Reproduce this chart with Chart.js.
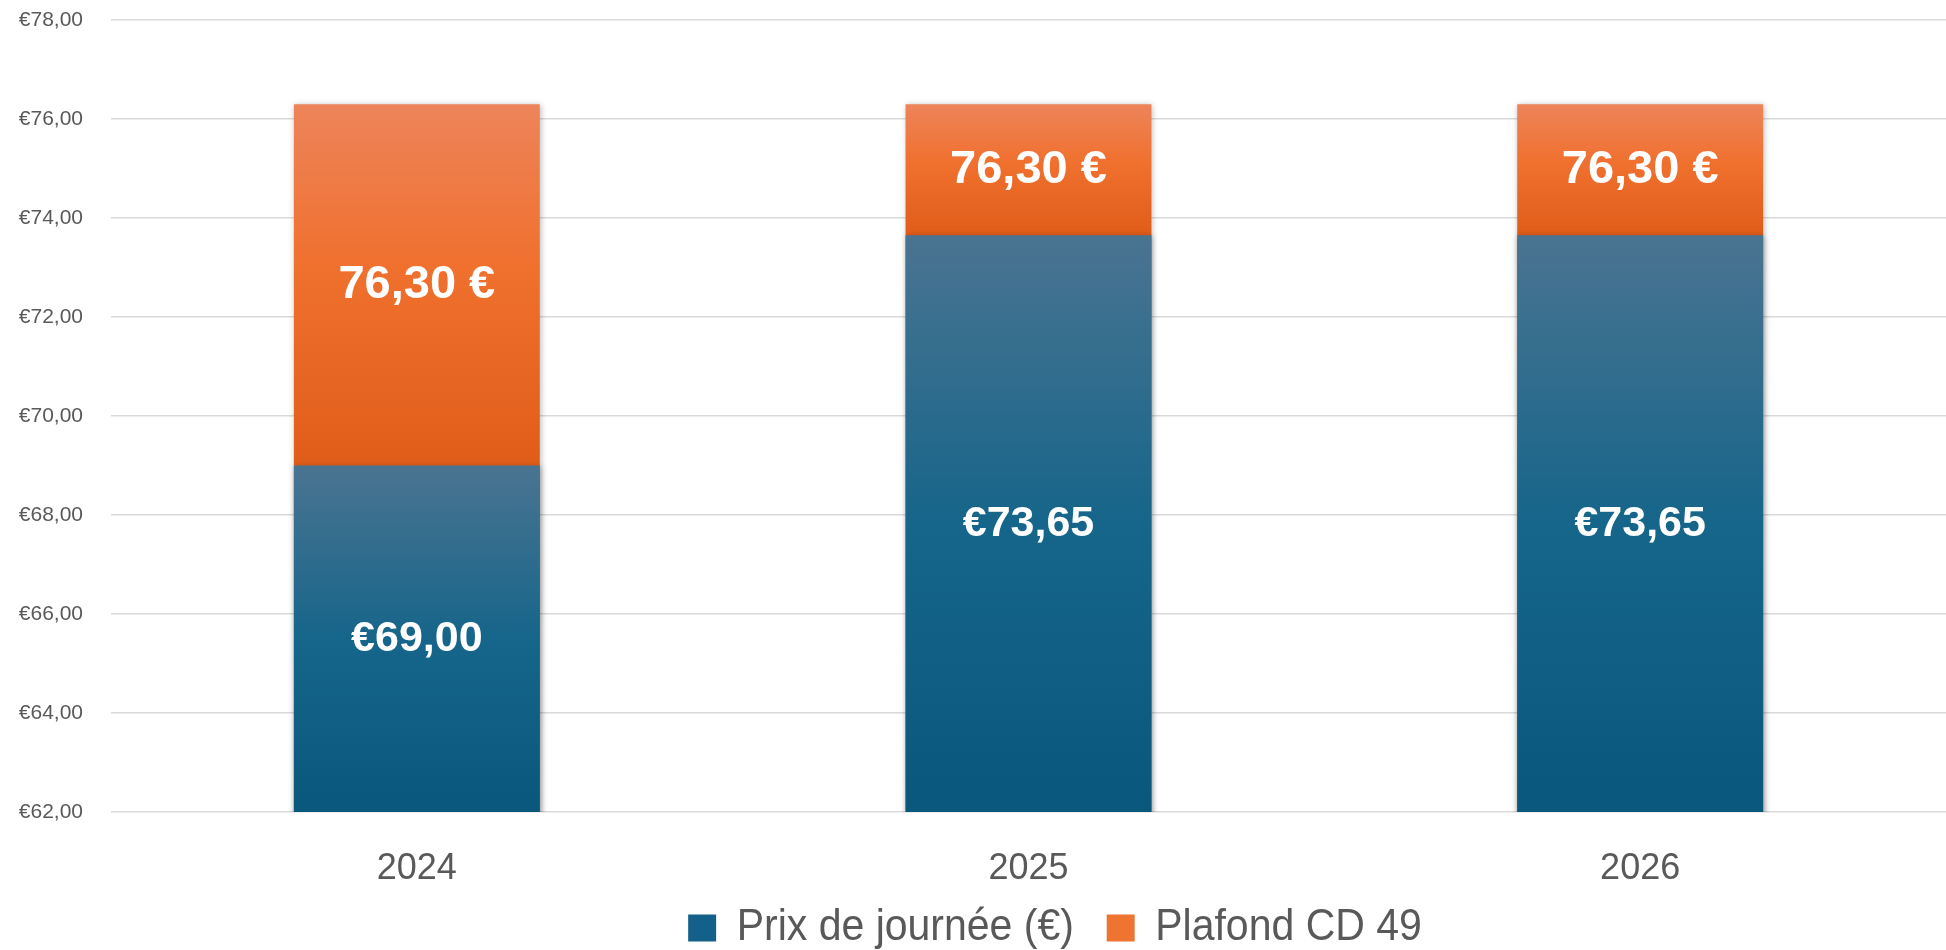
<!DOCTYPE html>
<html>
<head>
<meta charset="utf-8">
<script src="https://cdn.jsdelivr.net/npm/chart.js@4.4.1/dist/chart.umd.min.js"></script>
<style>
  html, body { margin: 0; padding: 0; background: #fff; }
  #wrap { width: 1946px; height: 950px; }
</style>
</head>
<body>
<div id="wrap"><canvas id="chart"></canvas></div>
<script>
// data
const annees = ['2024', '2025', '2026'];
const prixJournee = [69.00, 73.65, 73.65];
const plafondCD49 = [76.30, 76.30, 76.30];
const yMin = 62, yMax = 78, yStep = 2;

const fmtPrix = v => '€' + v.toFixed(2).replace('.', ',');
const fmtPlafond = v => v.toFixed(2).replace('.', ',') + ' €';

const SANS = '"Liberation Sans", Arial, sans-serif';

// vertical gradient between two values on the y scale
function barGradient(ctx, stops, topVal, bottomVal) {
  const chart = ctx.chart;
  if (!chart.chartArea || ctx.dataIndex === undefined) return stops[1][1];
  const y = chart.scales.y;
  const g = chart.ctx.createLinearGradient(0, y.getPixelForValue(topVal), 0, y.getPixelForValue(bottomVal));
  stops.forEach(s => g.addColorStop(s[0], s[1]));
  return g;
}

const blueStops = [[0, '#4a7491'], [0.5, '#16658a'], [1, '#0a577c']];
const orangeStops = [[0, '#ed845a'], [0.45, '#f0702e'], [1, '#e05d19']];

const barDeco = {
  id: 'barDeco',
  beforeLayout(chart) {
    // legend: keep its box short, draw it slightly stretched and shifted like the reference
    const lg = chart.legend;
    if (!lg || lg._patched) return;
    lg._patched = true;
    const origFit = lg.fit;
    lg.fit = function () {
      origFit.apply(this, arguments);
      this.height = 60;
    };
    const origDraw = lg.draw;
    lg.draw = function () {
      const ctx = this.ctx;
      const lab = this.options.labels;
      const cx = (this.left + this.right) / 2;
      const cy = this.top + lab.padding + Math.max(lab.font.size, lab.boxHeight) / 2;
      const bottom = this.bottom;
      this.bottom = bottom + 200; // the legend clips to its own box
      ctx.save();
      ctx.translate(cx + 82, 928);
      ctx.scale(1.025, 1.1);
      ctx.translate(-cx, -cy);
      origDraw.apply(this, arguments);
      ctx.restore();
      this.bottom = bottom;
    };
  },
  beforeDatasetsDraw(chart) {
    const ctx = chart.ctx;
    ctx.save();
    ctx.shadowColor = 'rgba(0,0,0,0.28)';
    ctx.shadowBlur = 6;
    ctx.shadowOffsetX = 1;
    ctx.shadowOffsetY = 1;
  },
  afterDatasetsDraw(chart) {
    const ctx = chart.ctx;
    ctx.restore();
    const y = chart.scales.y;
    const metaPrix = chart.getDatasetMeta(0);
    ctx.save();
    ctx.fillStyle = '#ffffff';
    ctx.textAlign = 'center';
    ctx.textBaseline = 'middle';
    annees.forEach((a, i) => {
      const x = metaPrix.data[i].x;
      ctx.font = 'bold 43px ' + SANS;
      ctx.fillText(fmtPrix(prixJournee[i]), x, y.getPixelForValue((yMin + prixJournee[i]) / 2));
      ctx.font = 'bold 47px ' + SANS;
      ctx.fillText(fmtPlafond(plafondCD49[i]), x, y.getPixelForValue((prixJournee[i] + plafondCD49[i]) / 2));
    });
    ctx.restore();
  }
};

new Chart(document.getElementById('chart'), {
  type: 'bar',
  data: {
    labels: annees,
    datasets: [
      {
        label: 'Prix de journée (€)',
        data: prixJournee,
        backgroundColor: ctx => barGradient(ctx, blueStops, prixJournee[ctx.dataIndex], yMin),
        categoryPercentage: 1,
        barPercentage: 0.402
      },
      {
        label: 'Plafond CD 49',
        data: plafondCD49,
        backgroundColor: ctx => barGradient(ctx, orangeStops, plafondCD49[ctx.dataIndex], prixJournee[ctx.dataIndex]),
        categoryPercentage: 1,
        barPercentage: 0.402
      }
    ]
  },
  options: {
    responsive: true,
    maintainAspectRatio: false,
    animation: false,
    layout: { padding: 0 },
    plugins: {
      tooltip: { enabled: false },
      legend: {
        position: 'bottom',
        labels: {
          boxWidth: 27.3,
          boxHeight: 24.5,
          padding: 32,
          color: '#595959',
          font: { family: SANS, size: 40 },
          generateLabels(chart) {
            const solid = ['#13618a', '#ee7430'];
            return chart.data.datasets.map((ds, i) => ({
              text: ds.label,
              fillStyle: solid[i],
              strokeStyle: solid[i],
              lineWidth: 0,
              fontColor: '#595959',
              hidden: false,
              datasetIndex: i
            }));
          }
        }
      }
    },
    scales: {
      x: {
        stacked: true,
        grid: { display: false },
        border: { display: false },
        ticks: {
          color: '#595959',
          padding: 31,
          font: { family: SANS, size: 36, lineHeight: 1 }
        },
        afterFit(scale) { scale.height = 78; }
      },
      y: {
        stacked: false,
        min: yMin,
        max: yMax,
        grid: { color: '#d9d9d9', lineWidth: 1.5, drawTicks: false },
        border: { display: false },
        ticks: {
          stepSize: yStep,
          padding: 28,
          color: '#595959',
          font: { family: SANS, size: 21 },
          callback: v => fmtPrix(v)
        },
        afterFit(scale) {
          scale.width = 111;
          scale.paddingTop = 20;
          scale.paddingBottom = 0;
        }
      }
    }
  },
  plugins: [barDeco]
});
</script>
</body>
</html>
